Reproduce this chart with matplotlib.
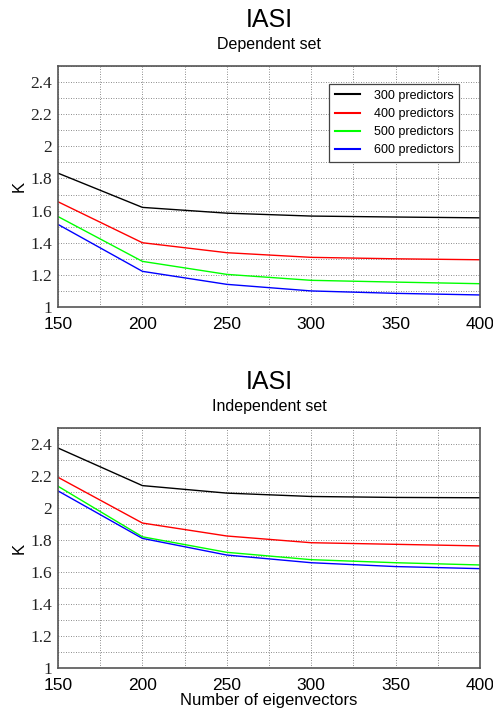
import matplotlib
matplotlib.use("Agg")
import matplotlib.pyplot as plt
from matplotlib.ticker import MultipleLocator

eigenvectors = [150, 200, 250, 300, 350, 400]
labels = ["300 predictors", "400 predictors", "500 predictors", "600 predictors"]
colors = ["#000000", "#ff0000", "#00ff00", "#0000ff"]

dep_300 = [1.833, 1.620, 1.584, 1.566, 1.560, 1.555]
dep_400 = [1.655, 1.400, 1.338, 1.309, 1.300, 1.294]
dep_500 = [1.563, 1.284, 1.203, 1.166, 1.155, 1.145]
dep_600 = [1.514, 1.222, 1.141, 1.100, 1.085, 1.075]

ind_300 = [2.375, 2.140, 2.093, 2.072, 2.066, 2.064]
ind_400 = [2.192, 1.906, 1.825, 1.783, 1.773, 1.763]
ind_500 = [2.136, 1.820, 1.723, 1.677, 1.658, 1.644]
ind_600 = [2.107, 1.810, 1.706, 1.658, 1.634, 1.621]

xticks = [150, 200, 250, 300, 350, 400]
yticks = [1, 1.2, 1.4, 1.6, 1.8, 2, 2.2, 2.4]
ytick_labels = ["1", "1.2", "1.4", "1.6", "1.8", "2", "2.2", "2.4"]

SANS = ["Liberation Sans", "DejaVu Sans"]
plt.rcParams["font.serif"] = ["Liberation Serif", "DejaVu Serif"]

fig = plt.figure(figsize=(4.93, 7.10), dpi=100)
W, H = 493, 710

def make_axes(top_px, bottom_px):
    l, r = 58, 480
    return fig.add_axes([l / W, 1 - bottom_px / H, (r - l) / W, (bottom_px - top_px) / H])

ax1 = make_axes(66, 307)
ax2 = make_axes(428, 668)

for ax, series in ((ax1, [dep_300, dep_400, dep_500, dep_600]),
                   (ax2, [ind_300, ind_400, ind_500, ind_600])):
    for vals, c, lab in zip(series, colors, labels):
        ax.plot(eigenvectors, vals, color=c, lw=1.0, label=lab)
    ax.set_xlim(150, 400)
    ax.set_ylim(1, 2.5)
    ax.set_xticks(xticks)
    ax.set_xticklabels([str(t) for t in xticks], fontfamily=SANS, fontsize=12.5)
    ax.set_yticks(yticks)
    ax.set_yticklabels(ytick_labels, fontfamily="Liberation Serif", fontsize=12.5,
                       color="#222222")
    ax.xaxis.set_minor_locator(MultipleLocator(25))
    ax.yaxis.set_minor_locator(MultipleLocator(0.1))
    ax.tick_params(which="both", length=0)
    ax.tick_params(axis="x", pad=7)
    ax.tick_params(axis="y", pad=4)
    ax.grid(which="both", color="#666666", linestyle=(0, (1, 2)), linewidth=0.6)
    ax.set_axisbelow(True)
    for s in ax.spines.values():
        s.set_color("#555555")
        s.set_linewidth(1.2)
    ax.set_ylabel("K", family=SANS, fontsize=12, labelpad=3)

leg = ax1.legend(loc="upper right", bbox_to_anchor=(459 / W, 1 - 84 / H),
                 bbox_transform=fig.transFigure, prop={"family": SANS, "size": 9},
                 fancybox=False, framealpha=1, edgecolor="#444444", borderaxespad=0,
                 handlelength=2.0, handletextpad=1.1, borderpad=0.45, labelspacing=0.5)
leg.get_frame().set_linewidth(0.9)
for h in leg.get_lines():
    h.set_linewidth(1.5)

ax2.set_xlabel("Number of eigenvectors", family=SANS, fontsize=12, labelpad=0)

cx = 0.5 * (58 + 480) / W
fig.text(cx, 1 - 20 / H, "IASI", ha="center", va="center", family=SANS, fontsize=18)
fig.text(cx, 1 - 44 / H, "Dependent set", ha="center", va="center", family=SANS, fontsize=11.5)
fig.text(cx, 1 - 382 / H, "IASI", ha="center", va="center", family=SANS, fontsize=18)
fig.text(cx, 1 - 406 / H, "Independent set", ha="center", va="center", family=SANS, fontsize=11.5)

fig.savefig("out.png", dpi=100)
